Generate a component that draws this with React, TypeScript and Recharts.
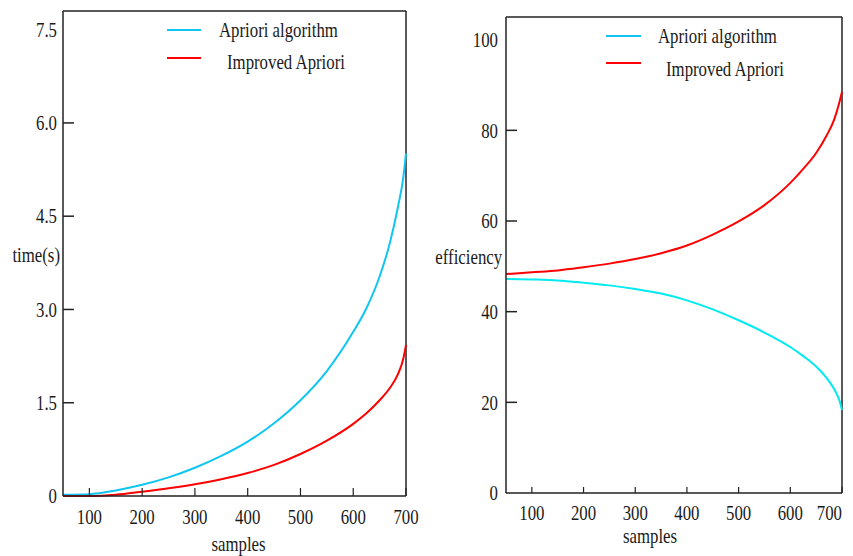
import { LineChart, Line, XAxis, YAxis, Legend, ReferenceLine, Label } from 'recharts'

// values
const SAMPLES = [50, 100, 150, 200, 250, 300, 350, 400, 450, 500, 550, 600, 625, 650, 670, 685, 695, 700]
const TIME_APRIORI = [0.02, 0.03, 0.09, 0.18, 0.3, 0.455, 0.645, 0.875, 1.17, 1.54, 2.01, 2.64, 3.02, 3.53, 4.09, 4.66, 5.13, 5.51]
const TIME_IMPROVED = [0, 0, 0.02, 0.07, 0.125, 0.19, 0.27, 0.37, 0.5, 0.675, 0.89, 1.16, 1.33, 1.54, 1.745, 1.965, 2.21, 2.43]
const EFF_APRIORI = [47.2, 47.1, 46.9, 46.4, 45.8, 45.0, 44.0, 42.5, 40.5, 38.1, 35.4, 32.2, 30.2, 27.9, 25.4, 22.9, 20.4, 18.3]
const EFF_IMPROVED = [48.3, 48.7, 49.1, 49.8, 50.6, 51.6, 52.9, 54.6, 57.0, 59.9, 63.5, 68.4, 71.5, 75.0, 78.8, 82.4, 86.2, 88.5]

const X_TICKS = [100, 200, 300, 400, 500, 600, 700]
const TIME_TICKS = [0, 1.5, 3, 4.5, 6, 7.5]
const EFF_TICKS = [0, 20, 40, 60, 80, 100]

const SERIES_NAMES = ['Apriori algorithm', 'Improved Apriori']

const timeData = SAMPLES.map((s, i) => ({ samples: s, apriori: TIME_APRIORI[i], improved: TIME_IMPROVED[i] }))
const effData = SAMPLES.map((s, i) => ({ samples: s, apriori: EFF_APRIORI[i], improved: EFF_IMPROVED[i] }))

const AXIS = '#222'
const TEXT = '#1a1a1a'
const BLUE = '#0fc6f2'
const CYAN = '#00eaf0'
const RED = '#ff0000'
const FONT = "'Liberation Serif', 'Times New Roman', serif"

// the reference text is a narrow serif, so squeeze it horizontally
const css = `
.cond { transform-box: fill-box; transform-origin: center; transform: scaleX(0.8); }
.cond-end { transform-box: fill-box; transform-origin: right center; transform: scaleX(0.8); }
.cond-start { transform-box: fill-box; transform-origin: left center; transform: scaleX(0.8); }
`

function SText({ x, y, anchor = 'middle', children }: any) {
  const cls = anchor === 'end' ? 'cond-end' : anchor === 'start' ? 'cond-start' : 'cond'
  return (
    <text x={x} y={y} textAnchor={anchor} dominantBaseline="central" className={cls}
      fontFamily={FONT} fontSize={21} fill={TEXT}>
      {children}
    </text>
  )
}

function makeYTick(fmt: (v: number) => string, noMark: number[], gap: number) {
  return (props: any) => {
    const { x, y, payload } = props
    const v = payload.value
    return (
      <g>
        {!noMark.includes(v) && <line x1={x} x2={x + 11} y1={y} y2={y} stroke={AXIS} strokeWidth={1.5} />}
        <SText x={x - gap} y={y} anchor="end">{fmt(v)}</SText>
      </g>
    )
  }
}

function makeXTick(mark: number, gap: number, lastEnd: boolean) {
  return (props: any) => {
    const { x, y, payload, index, visibleTicksCount } = props
    const isLast = index === visibleTicksCount - 1
    return (
      <g>
        <line x1={x} x2={x} y1={y} y2={y - mark} stroke={AXIS} strokeWidth={1.2} />
        <SText x={x} y={y + gap} anchor={lastEnd && isLast ? 'end' : 'middle'}>{payload.value}</SText>
      </g>
    )
  }
}

function makeLegend(cfg: { x1: number; x2: number; lineY: number[]; textX: number[]; textY: number[]; colors: string[] }) {
  return (props: any) => {
    const items = props.payload || []
    return (
      <svg width={420} height={90} style={{ display: 'block', overflow: 'visible' }}>
        {items.map((it: any, i: number) => (
          <g key={i}>
            <line x1={cfg.x1} x2={cfg.x2} y1={cfg.lineY[i]} y2={cfg.lineY[i]} stroke={cfg.colors[i]} strokeWidth={2} />
            <SText x={cfg.textX[i]} y={cfg.textY[i]} anchor="start">{it.value}</SText>
          </g>
        ))}
      </svg>
    )
  }
}

const leftLegend = makeLegend({ x1: 167, x2: 201, lineY: [30, 58], textX: [219, 227], textY: [30, 62], colors: [BLUE, RED] })
const rightLegend = makeLegend({ x1: 186, x2: 221, lineY: [36, 63], textX: [238, 246], textY: [36, 69], colors: [BLUE, RED] })

const fmtTime = (v: number) => (v === 0 ? '0' : v.toFixed(1))
const fmtEff = (v: number) => String(v)

export default function App() {
  return (
    <div style={{ position: 'relative', width: 853, height: 556, marginTop: -8, marginLeft: -8, background: '#fff' }}>
      <style>{css}</style>
      <div style={{ position: 'absolute', left: 0, top: 0 }}>
        <LineChart width={420} height={556} data={timeData} margin={{ top: 11, right: 14, bottom: 0, left: 0 }}>
          <XAxis type="number" dataKey="samples" domain={[50, 700]} ticks={X_TICKS} interval={0}
            height={60} tickSize={0} tickMargin={0} tick={makeXTick(8, 21, false)}
            axisLine={{ stroke: AXIS, strokeWidth: 1.5 }}>
            <Label value="samples" position="insideBottom" offset={5} dx={4} className="cond"
              fontFamily={FONT} fontSize={21} fill={TEXT} />
          </XAxis>
          <YAxis type="number" domain={[0, 7.8]} ticks={TIME_TICKS} interval={0} width={63}
            tickSize={0} tickMargin={0} tick={makeYTick(fmtTime, [0, 7.5], 6)}
            axisLine={{ stroke: AXIS, strokeWidth: 1.5 }}>
            <Label value="time(s)" position="insideRight" offset={3} dy={1} className="cond-end"
              fontFamily={FONT} fontSize={21} fill={TEXT} />
          </YAxis>
          <ReferenceLine y={7.8} stroke={AXIS} strokeWidth={1.5} />
          <ReferenceLine x={700} stroke={AXIS} strokeWidth={1.5} />
          <Legend layout="horizontal" verticalAlign="middle" align="center" content={leftLegend}
            wrapperStyle={{ top: 0, left: 0, width: 420 }} />
          <Line type="monotone" dataKey="apriori" name={SERIES_NAMES[0]} stroke={BLUE} strokeWidth={2} dot={false} isAnimationActive={false} />
          <Line type="monotone" dataKey="improved" name={SERIES_NAMES[1]} stroke={RED} strokeWidth={2} dot={false} isAnimationActive={false} />
        </LineChart>
      </div>
      <div style={{ position: 'absolute', left: 420, top: 0 }}>
        <LineChart width={433} height={556} data={effData} margin={{ top: 17, right: 11, bottom: 0, left: 0 }}>
          <XAxis type="number" dataKey="samples" domain={[50, 700]} ticks={X_TICKS} interval={0}
            height={63} tickSize={0} tickMargin={0} tick={makeXTick(6, 20, true)}
            axisLine={{ stroke: AXIS, strokeWidth: 1.5 }}>
            <Label value="samples" position="insideBottom" offset={13} dx={-24} className="cond"
              fontFamily={FONT} fontSize={21} fill={TEXT} />
          </XAxis>
          <YAxis type="number" domain={[0, 105]} ticks={EFF_TICKS} interval={0} width={86}
            tickSize={0} tickMargin={0} tick={makeYTick(fmtEff, [0, 100], 8)}
            axisLine={{ stroke: AXIS, strokeWidth: 1.5 }}>
            <Label value="efficiency" position="insideRight" offset={4} dy={2} className="cond-end"
              fontFamily={FONT} fontSize={21} fill={TEXT} />
          </YAxis>
          <ReferenceLine y={105} stroke={AXIS} strokeWidth={1.5} />
          <ReferenceLine x={700} stroke={AXIS} strokeWidth={1.5} />
          <Legend layout="horizontal" verticalAlign="middle" align="center" content={rightLegend}
            wrapperStyle={{ top: 0, left: 0, width: 433 }} />
          <Line type="monotone" dataKey="apriori" name={SERIES_NAMES[0]} stroke={CYAN} strokeWidth={2} dot={false} isAnimationActive={false} />
          <Line type="monotone" dataKey="improved" name={SERIES_NAMES[1]} stroke={RED} strokeWidth={2} dot={false} isAnimationActive={false} />
        </LineChart>
      </div>
    </div>
  )
}
